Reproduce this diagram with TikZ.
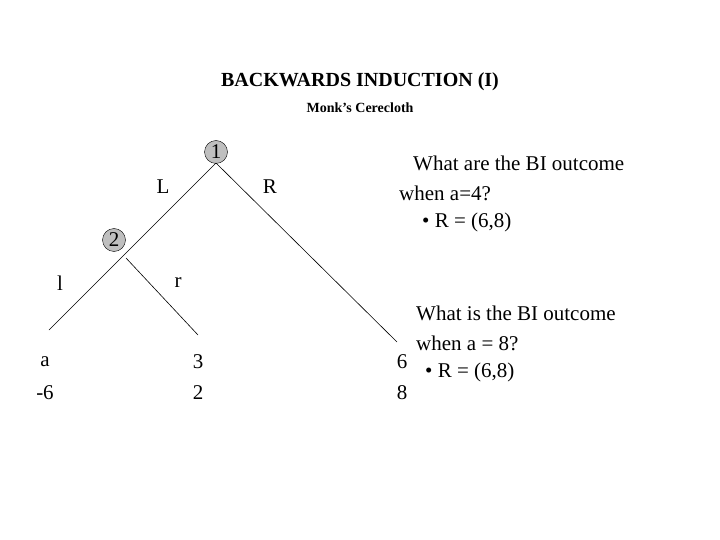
\documentclass[tikz,border=0pt]{standalone}
\usepackage{fontspec}
\setmainfont{Liberation Serif}
\begin{document}
\begin{tikzpicture}[x=1pt,y=-1pt,
  dec/.style={circle,draw=black,fill=black!25,inner sep=0pt,minimum size=23pt,font=\fontsize{21}{21}\selectfont},
  lab/.style={font=\fontsize{21}{21}\selectfont},
  txt/.style={anchor=west,font=\fontsize{21}{25}\selectfont,inner sep=0pt},
  br/.style={line width=0.6pt}]
\useasboundingbox (0,0) rectangle (720,540);
\node[font=\bfseries\fontsize{20}{20}\selectfont] (title) at (360,82) {BACKWARDS INDUCTION (I)};
\node[font=\bfseries\fontsize{14}{14}\selectfont] (sub) at (360,108) {Monk’s Cerecloth};
\node[dec] (n1) at (216,152) {1};
\node[dec] (n2) at (114,240) {2};
\coordinate (b2) at (126,258);
\coordinate (e1) at (49,330);
\coordinate (e2) at (198,335);
\coordinate (e3) at (397,342);
\coordinate (top) at (216,163);
\draw[br] (top) -- (e1);
\draw[br] (b2) -- (e2);
\draw[br] (top) -- (e3);
\node[lab] (L) at (163,187) {L};
\node[lab] (R) at (270,187) {R};
\node[lab] (l) at (60,283) {l};
\node[lab] (r) at (178,283) {r};
\node[lab] (a1) at (45,362) {a};
\node[lab] (a2) at (45,393) {-6};
\node[lab] (b1) at (198,362) {3};
\node[lab] (bb) at (198,393) {2};
\node[lab] (c1) at (402,362) {6};
\node[lab] (c2) at (402,393) {8};
\node[txt] (t1) at (413,163) {What are the BI outcome};
\node[txt] (t2) at (399,193) {when a=4?};
\node[txt] (t3) at (422,222) {• R = (6,8)};
\node[txt] (u1) at (416,313) {What is the BI outcome};
\node[txt] (u2) at (416,343) {when a = 8?};
\node[txt] (u3) at (425,372) {• R = (6,8)};
\end{tikzpicture}
\end{document}
